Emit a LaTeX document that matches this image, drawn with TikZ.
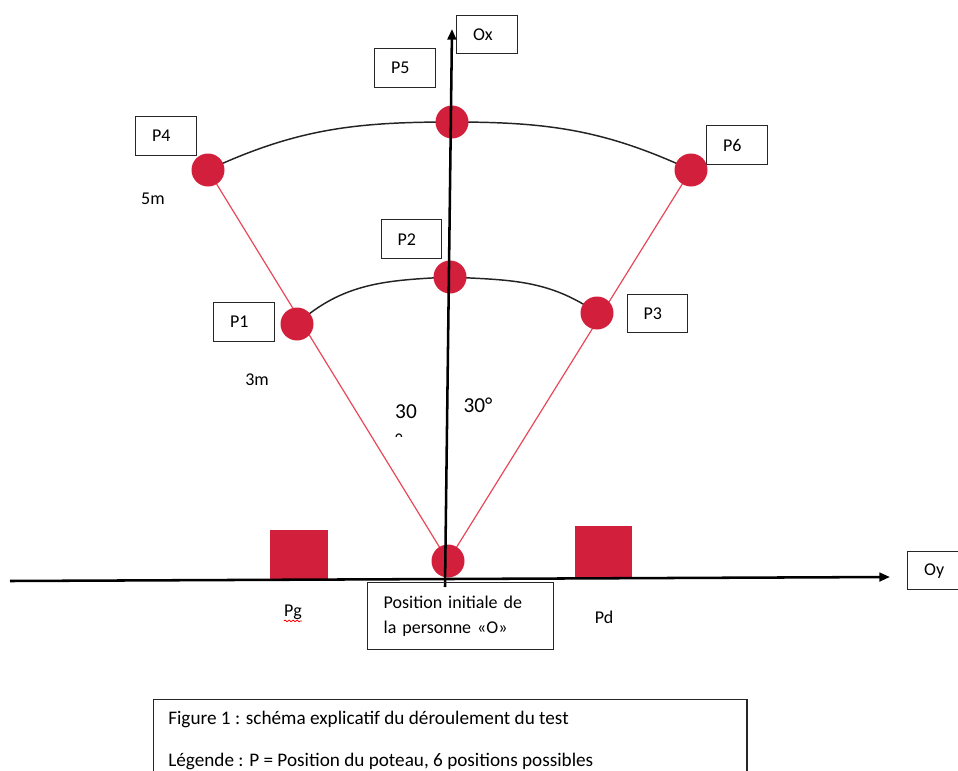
\documentclass[tikz,border=0pt]{standalone}
\usepackage{fontspec}
\setmainfont{Carlito}
\usetikzlibrary{arrows.meta,backgrounds,decorations.pathmorphing}
\definecolor{dotred}{RGB}{210,31,60}
\definecolor{linered}{RGB}{232,72,88}
\definecolor{arcgray}{RGB}{35,35,35}
\begin{document}
\begin{tikzpicture}[x=0.75pt,y=-0.75pt,
  every node/.style={font=\fontsize{13.5}{16}\selectfont},
  pbox/.style={draw=black!85, line width=1pt, anchor=north west, minimum height=29.25pt,
    minimum width=45.75pt, inner xsep=12pt, text width=21pt, align=left},
  dot/.style={circle, fill=dotred, minimum size=24.75pt, inner sep=0pt},
  post/.style={fill=dotred, anchor=north west, inner sep=0pt},
  redline/.style={draw=linered, line width=0.9pt},
  arcline/.style={draw=arcgray, line width=1.1pt},
  axis/.style={line width=1.9pt, -{Triangle[length=8pt,width=6.5pt]}},
  lbl/.style={inner sep=0pt},
  biglbl/.style={inner sep=0pt, font=\fontsize{16}{19}\selectfont},
  caplbl/.style={inner sep=0pt, anchor=base west, font=\fontsize{14.4}{17}\selectfont}
]
\useasboundingbox (0,0) rectangle (958,771);

% labelled boxes
\node[pbox, minimum height=28.5pt] (bx) at (456,15) {Ox};
\node[pbox] (b5) at (374,48) {P5};
\node[pbox] (b4) at (135,116) {P4};
\node[pbox] (b6) at (706,125) {P6};
\node[pbox, minimum width=44.25pt] (b2) at (381,219) {P2};
\node[pbox] (b1) at (213,302) {P1};
\node[pbox, minimum width=44.25pt, minimum height=28.5pt] (b3) at (627,294) {P3};
\node[pbox, minimum height=28.5pt] (by) at (907,551) {Oy};

% positions
\node[dot] (p4) at (208,170) {};
\node[dot] (p5) at (452,122) {};
\node[dot] (p6) at (691,170) {};
\node[dot] (p1) at (297,324) {};
\node[dot] (p2) at (450,277) {};
\node[dot] (p3) at (597,313) {};
\node[dot] (o) at (448,561) {};

\begin{scope}[on background layer]
  \draw[redline] (o.center) -- (p4.center);
  \draw[redline] (o.center) -- (p6.center);
  \draw[arcline] (p4.center) to[out=25,in=180] (p5.center) to[out=0,in=155] (p6.center);
  \draw[arcline] (p1.center) to[out=42,in=183] (p2.center) to[out=-3,in=145] (p3.center);
\end{scope}

% posts
\node[post, minimum width=43.5pt, minimum height=36.75pt] (pg) at (270,530) {};
\node[post, minimum width=42.75pt, minimum height=38.25pt] (pd) at (575,526) {};

% axes
\coordinate (ybot) at (445,587);
\coordinate (ytop) at (452,29);
\coordinate (xleft) at (10,581);
\coordinate (xright) at (890,577);
\draw[axis] (ybot) -- (ytop);
\draw[axis] (xleft) -- (xright);

% texts
\node[lbl] (t5m) at (153,199) {5m};
\node[lbl] (t3m) at (257,380) {3m};
\node[biglbl] (a1) at (406,412) {30};
\begin{scope}
  \clip (385,428) rectangle (415,436);
  \node[biglbl, anchor=base] (a1deg) at (399,448) {°};
\end{scope}
\node[biglbl] (a2) at (478,405) {30°};
\node[lbl] (tpg) at (293,612) {Pg};
\draw[red, line width=0.6pt, decorate, decoration={snake, amplitude=0.6pt, segment length=3pt}]
  ([yshift=-1pt]tpg.south west) -- ([yshift=-1pt]tpg.south east);
\node[lbl] (tpd) at (604,617) {Pd};

\node[draw=black!85, line width=1pt, anchor=north west, minimum width=139.5pt, minimum height=50.25pt,
  inner xsep=12pt, text width=115.5pt, align=left, font=\fontsize{13.5}{18.75}\selectfont] (pos) at (367,582)
  {Position initiale de\\la personne «O»};

% caption
\node[draw=black!85, line width=1pt, anchor=north west, minimum width=445pt, minimum height=75pt] (cap) at (153,699) {};
\node[caplbl] (cap1) at (168,724) {Figure 1 : schéma explicatif du déroulement du test};
\node[caplbl] (cap2) at (168,766) {Légende : P = Position du poteau, 6 positions possibles};
\end{tikzpicture}
\end{document}
